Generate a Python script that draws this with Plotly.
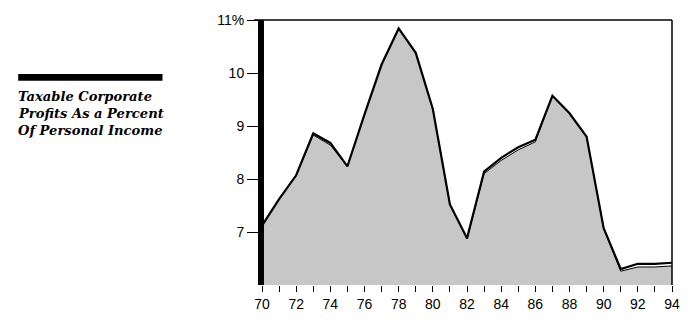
import plotly.graph_objects as go

years = list(range(70, 95))
# Taxable corporate profits as % of personal income (upper line)
line_vals = [7.12, 7.62, 8.07, 8.86, 8.68, 8.24, 9.22, 10.16, 10.84, 10.38, 9.32,
             7.52, 6.88, 8.14, 8.40, 8.60, 8.74, 9.57, 9.24, 8.80, 7.07, 6.30,
             6.40, 6.40, 6.42]
# shaded area top (drawn slightly below line in places)
area_vals = [7.12, 7.62, 8.07, 8.83, 8.64, 8.24, 9.22, 10.16, 10.84, 10.38, 9.32,
             7.52, 6.88, 8.10, 8.35, 8.55, 8.70, 9.57, 9.24, 8.80, 7.07, 6.26,
             6.34, 6.34, 6.36]
x_tickvals = years
x_ticktext = [str(y) if y % 2 == 0 else "" for y in years]
y_tickvals = [7, 8, 9, 10, 11]
y_ticktext = ["7", "8", "9", "10", "11%"]
legend_lines = ["Taxable Corporate", "Profits As a Percent", "Of Personal Income"]

fig = go.Figure()
fig.add_trace(go.Scatter(
    x=years, y=area_vals, mode="lines", fill="tozeroy",
    line=dict(color="black", width=1),
    fillcolor="#bdbdbd",
    fillpattern=dict(shape=".", fgcolor="#000000", bgcolor="#ffffff",
                     size=2, solidity=0.5, fillmode="overlay"),
    hoverinfo="skip", showlegend=False))
fig.add_trace(go.Scatter(
    x=years, y=line_vals, mode="lines",
    line=dict(color="black", width=2.2),
    showlegend=False))

L, R, T, B = 262, 18, 14, 35
W, H = 692, 324
pw, ph = W - L - R, H - T - B

def px(x):
    return (x - L) / pw

def py(y):
    return (H - B - y) / ph

shapes = [
    # thick left bar
    dict(type="rect", xref="paper", yref="paper", x0=px(258), x1=px(264),
         y0=0, y1=1, fillcolor="black", line=dict(width=0)),
    # top border
    dict(type="line", xref="paper", yref="paper", x0=px(254), x1=1, y0=1, y1=1,
         line=dict(color="black", width=1.5)),
    # right border
    dict(type="line", xref="paper", yref="paper", x0=1, x1=1, y0=0, y1=1,
         line=dict(color="black", width=1.5)),
    # legend bar
    dict(type="rect", xref="paper", yref="paper", x0=px(17), x1=px(162),
         y0=py(77), y1=py(70), fillcolor="black", line=dict(width=0)),
]

annotations = []
for i, t in enumerate(legend_lines):
    annotations.append(dict(
        xref="paper", yref="paper", x=px(15), y=py(93 + 18 * i),
        xanchor="left", yanchor="middle", showarrow=False,
        text="<b><i>" + t + "</i></b>",
        font=dict(family="DejaVu Serif", size=13.1, color="black")))

fig.update_layout(
    width=W, height=H,
    margin=dict(l=L, r=R, t=T, b=B),
    paper_bgcolor="white", plot_bgcolor="white",
    font=dict(family="Liberation Sans", size=14, color="black"),
    shapes=shapes, annotations=annotations,
    xaxis=dict(range=[70, 94], tickvals=x_tickvals, ticktext=x_ticktext,
               ticks="outside", ticklen=6, tickcolor="black", tickwidth=1,
               showgrid=False, zeroline=False, showline=False, fixedrange=True),
    yaxis=dict(range=[6, 11], tickvals=y_tickvals, ticktext=y_ticktext,
               ticks="outside", ticklen=14, tickcolor="black", tickwidth=1,
               showgrid=False, zeroline=False, showline=False, fixedrange=True),
)

fig.write_html("out.html")
